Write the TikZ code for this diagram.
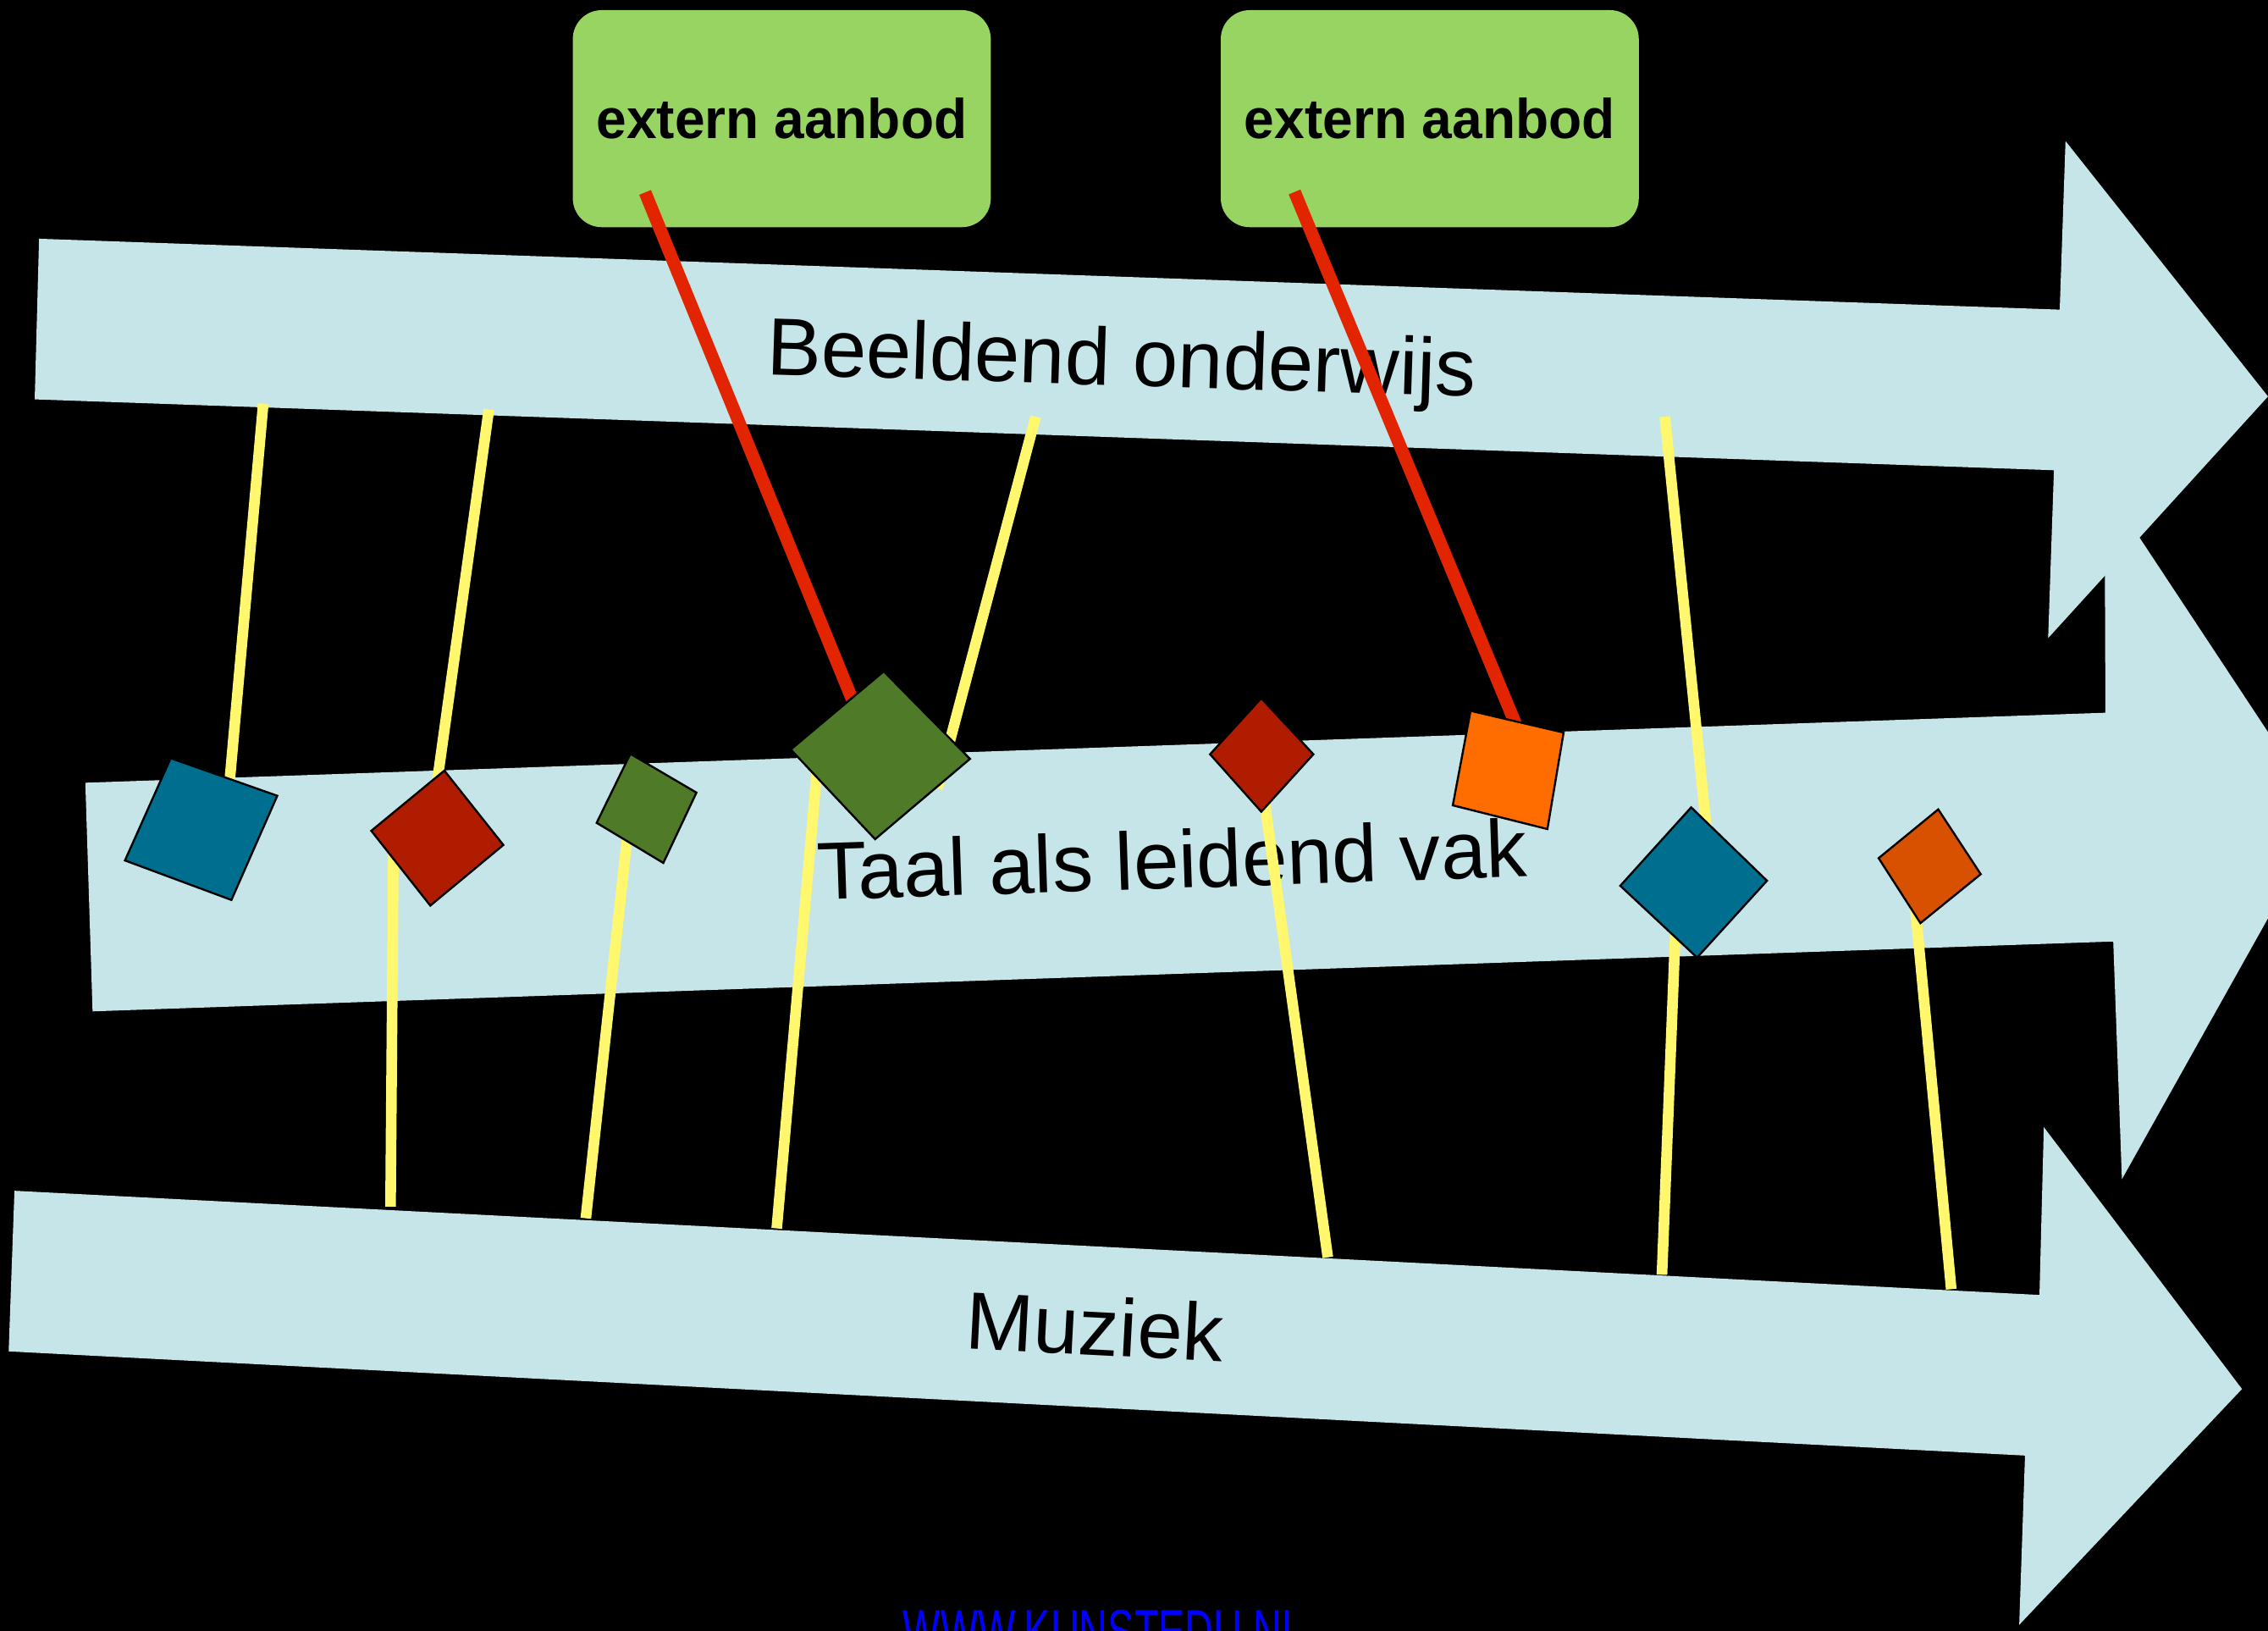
\documentclass[tikz,border=0pt]{standalone}
\usepackage{fontspec}
\setmainfont{Liberation Sans}
\definecolor{arrowfill}{RGB}{198,229,232}
\definecolor{boxgreen}{RGB}{152,212,98}
\definecolor{sqblue}{RGB}{0,110,143}
\definecolor{sqred}{RGB}{176,28,0}
\definecolor{sqgreen}{RGB}{79,122,40}
\definecolor{sqorange}{RGB}{255,109,0}
\definecolor{sqdorange}{RGB}{216,81,0}
\definecolor{yel}{RGB}{255,248,110}
\definecolor{redline}{RGB}{226,36,0}
\definecolor{web}{RGB}{0,0,255}
\begin{document}
\begin{tikzpicture}[x=0.1mm,y=-0.1mm,
  band/.style={fill=arrowfill},
  extbox/.style={fill=boxgreen, rounded corners=2mm, minimum width=28.9mm, minimum height=15mm, inner sep=0pt, font=\fontsize{11}{13}\selectfont\bfseries},
  bandlabel/.style={font=\fontsize{16}{19}\selectfont, anchor=base, inner sep=0pt},
  tie/.style={draw=yel, line width=2.1pt},
  extline/.style={draw=redline, line width=2.5pt},
  sq/.style={draw=black, line width=0.4pt}]
\useasboundingbox (0,0) rectangle (1568,1127);
\fill[black] (0,0) rectangle (1568,1127);
\clip (0,0) rectangle (1568,1127);

% arrows
\fill[band] (59,541) -- (1455.6,492.6) -- (1455,335) -- (1607,565) -- (1467,815) -- (1461,650.7) -- (64,699) -- cycle;
\fill[band] (27,165) -- (1424,214) -- (1428,97.5) -- (1568,274) -- (1416,441) -- (1420,325) -- (24,276) -- cycle;
\fill[band] (10,823) -- (1410,895) -- (1413,779) -- (1550,960) -- (1396,1123) -- (1400,1006) -- (6,934) -- cycle;

% band labels
\node[bandlabel, rotate=-1.8] (beeld) at (775,266.5) {Beeldend onderwijs};
\node[bandlabel, rotate=1.9] (taal) at (811,614) {Taal als leidend vak};
\node[bandlabel, rotate=-3] (muz) at (756,936.5) {Muziek};

% external offer boxes
\node[extbox] (ext1) at (540.5,82) {\scalebox{0.97}[1]{extern aanbod}};
\node[extbox] (ext2) at (988.5,82) {\scalebox{0.97}[1]{extern aanbod}};

% connector end points
\coordinate (r1s) at (446,133);  \coordinate (r1e) at (598,505);
\coordinate (r2s) at (895,132.7); \coordinate (r2e) at (1056,520);
\coordinate (y1s) at (182,279);  \coordinate (y1e) at (157,560);
\coordinate (y2s) at (338,283);  \coordinate (y2e) at (299.5,560);
\coordinate (y3s) at (716,288);  \coordinate (y3e) at (648,545);
\coordinate (y4s) at (1151,288); \coordinate (y4e) at (1181,585);
\coordinate (y5s) at (272,585);  \coordinate (y5e) at (270,834);
\coordinate (y6s) at (434,575);  \coordinate (y6e) at (405,842);
\coordinate (y7s) at (565,530);  \coordinate (y7e) at (537,849);
\coordinate (y8s) at (873,545);  \coordinate (y8e) at (918,869);
\coordinate (y9s) at (1160,600); \coordinate (y9e) at (1149,881);
\coordinate (y10s) at (1323,615); \coordinate (y10e) at (1349,891);

% connectors
\draw[extline] (r1s) -- (r1e);
\draw[extline] (r2s) -- (r2e);
\foreach \i in {1,...,10} {\draw[tie] (y\i s) -- (y\i e);}

% squares
\draw[sq, fill=sqblue] (118,524) -- (191.7,550) -- (160,622) -- (86.4,594.7) -- cycle;
\draw[sq, fill=sqred] (307.2,532.6) -- (348,584) -- (297.5,625.9) -- (256.7,574.2) -- cycle;
\draw[sq, fill=sqgreen] (435.8,521) -- (481.5,547.8) -- (458.6,596.4) -- (412.5,568.7) -- cycle;
\draw[sq, fill=sqgreen] (611,464) -- (670.6,524.5) -- (605,580) -- (546.7,518) -- cycle;
\draw[sq, fill=sqred] (872,482.5) -- (908,521.3) -- (872,561) -- (836.6,521.3) -- cycle;
\draw[sq, fill=sqorange] (1016.7,491.3) -- (1081,506.3) -- (1069.8,573) -- (1004.4,556.6) -- cycle;
\draw[sq, fill=sqblue] (1169.2,558) -- (1221.6,608.7) -- (1173.3,661.8) -- (1120.2,612.2) -- cycle;
\draw[sq, fill=sqdorange] (1340,559.4) -- (1369.4,604.2) -- (1327.7,638) -- (1298.8,593.1) -- cycle;

% web address (cut off at the lower edge, as in the reference)
\node[font=\fontsize{12}{14}\selectfont, text=web, anchor=base, inner sep=0pt] (web) at (763,1142) {\scalebox{0.65}[1]{WWW.KUNSTEDU.NL}};
\end{tikzpicture}
\end{document}
